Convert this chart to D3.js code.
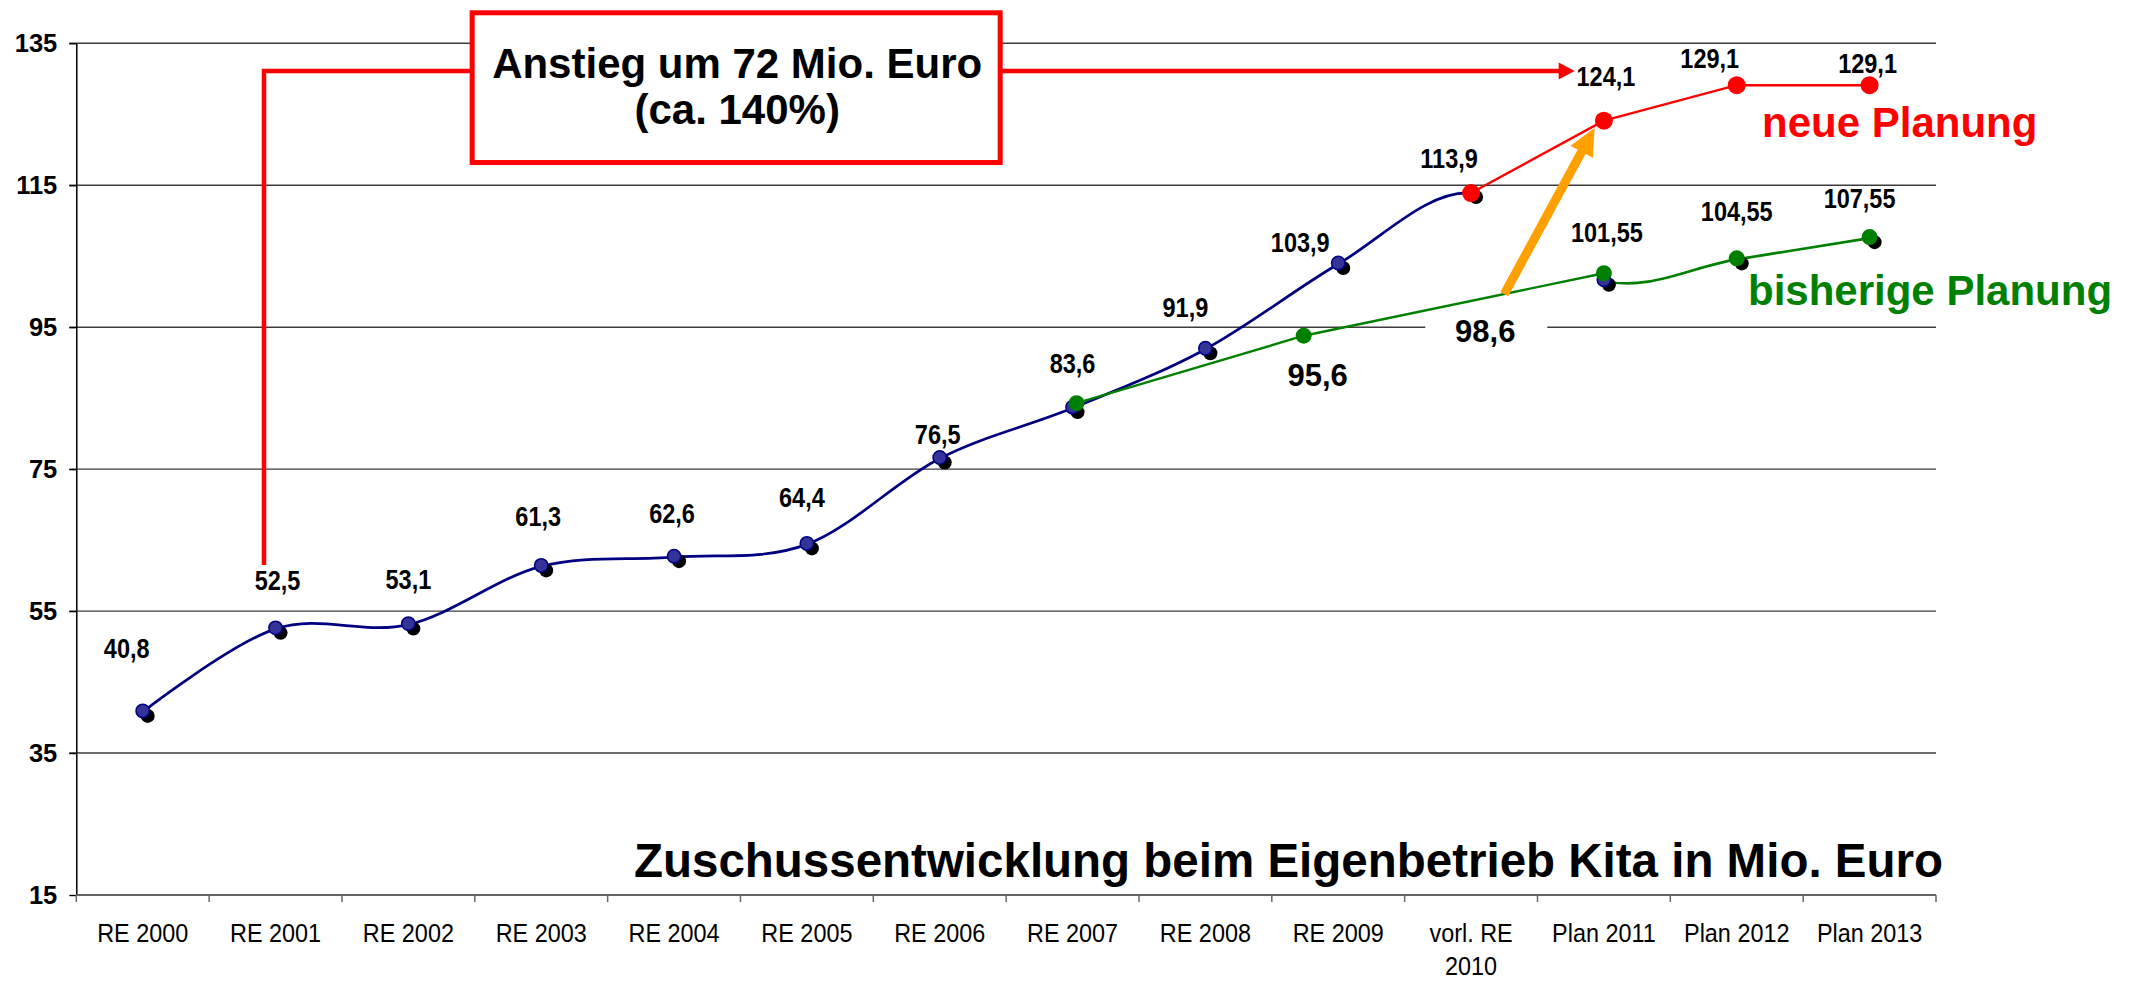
<!DOCTYPE html>
<html><head><meta charset="utf-8">
<script src="https://cdn.jsdelivr.net/npm/d3@7"></script>
<style>
body{margin:0;background:#fff}
svg{display:block}
text{font-family:"Liberation Sans",Arial,Helvetica,sans-serif}
</style></head>
<body><svg id="c" width="2132" height="983"></svg>
<script>
// ---------- data ----------
const categories = ["RE 2000","RE 2001","RE 2002","RE 2003","RE 2004","RE 2005","RE 2006","RE 2007","RE 2008","RE 2009","vorl. RE 2010","Plan 2011","Plan 2012","Plan 2013"];
const categoryLines = [["RE 2000"],["RE 2001"],["RE 2002"],["RE 2003"],["RE 2004"],["RE 2005"],["RE 2006"],["RE 2007"],["RE 2008"],["RE 2009"],["vorl. RE","2010"],["Plan 2011"],["Plan 2012"],["Plan 2013"]];
const yTicks = [15,35,55,75,95,115,135];
// smoothed actual series (blue up to vorl. RE 2010, continued in green for the old plan)
const istValues = [40.8,52.5,53.1,61.3,62.6,64.4,76.5,83.6,91.9,103.9,113.9,101.55,104.55,107.55];
const blueUntil = 10;
const greenFrom = 11;
// neue Planung (red)
const neueIdx = [10,11,12,13];
const neueValues = [113.9,124.1,129.1,129.1];
// bisherige Planung overlay (green), [category position, value]
const bisherigeLine = [[7.03,84.3],[8.74,93.8],[11,102.6]];
const bisherigeMarkers = [[7.03,84.3],[8.74,93.8],[11,102.6],[12,104.7],[13,107.7]];
const bisherigeTexts = ["95,6","98,6"];
// annotation anchors [category position, value]
const bracketPts = [[0.913,61.5],[0.913,131.1],[2.48,131.1]];
const arrowPts = [[6.455,131.1],[10.78,131.1]];
const boxPts = [[2.48,139.3],[6.455,118.2]];
const orangePts = [[10.25,99.65],[10.93,123.07]];
const boxText = ["Anstieg um 72 Mio. Euro","(ca. 140%)"];
const title = "Zuschussentwicklung beim Eigenbetrieb Kita in Mio. Euro";
const legendNeu = "neue Planung";
const legendBisher = "bisherige Planung";
// label nudges (px) for value labels
const istNudge = [[-16,-54],[2,-39],[0,-36],[-3,-40],[-2,-34],[-5,-37],[-2,-15],[0,-35],[-20,-32],[-38,-12],[-22,-25],[3,-39],[0,-38],[-10,-30]];
const neueNudge = [null,[2,-35],[-27,-17],[-2,-12]];

// ---------- scales ----------
const svg = d3.select("#c");
const L = 76.3, R = 1936, T = 43.3, B = 895;
const x = d3.scaleBand().domain(categories).range([L,R]).paddingInner(0).paddingOuter(0);
const xi = d3.scaleLinear().domain([0,categories.length]).range([L,R]);
const xPos = i => xi(i+0.5);
const y = d3.scaleLinear().domain([15,135]).range([B,T]);
const fmt = v => String(v).replace(".",",");
function condense(sel, f){
  sel.each(function(){
    const len = this.getComputedTextLength();
    d3.select(this).attr("textLength", len*f).attr("lengthAdjust","spacingAndGlyphs");
  });
}

// gridlines
svg.append("g").selectAll("line").data(yTicks.filter(v=>v>15)).join("line")
  .attr("x1",L-7).attr("x2",R).attr("y1",d=>y(d)).attr("y2",d=>y(d))
  .attr("stroke","#3c3c3c").attr("stroke-width",1.4);

// y axis
const ya = svg.append("g").attr("transform",`translate(${L},0)`)
  .call(d3.axisLeft(y).tickValues(yTicks).tickSize(7).tickSizeOuter(0).tickPadding(12).tickFormat(d=>d));
ya.select(".domain").attr("stroke","#000").attr("stroke-width",1.5);
ya.selectAll(".tick line").attr("stroke","#000").attr("stroke-width",1.4);
ya.selectAll(".tick text").attr("font-size",25.5).attr("font-weight","bold").attr("fill","#000")
  .attr("font-family","'Liberation Sans',Arial,sans-serif");

// x axis
svg.append("line").attr("x1",L).attr("x2",R).attr("y1",B).attr("y2",B).attr("stroke","#666").attr("stroke-width",2.2);
svg.append("g").selectAll("line").data(d3.range(categories.length+1)).join("line")
  .attr("x1",d=>xi(d)).attr("x2",d=>xi(d)).attr("y1",B).attr("y2",B+7)
  .attr("stroke","#666").attr("stroke-width",1.5);
const xl = svg.append("g").selectAll("text").data(categories).join("text")
  .attr("x",d=>x(d)+x.bandwidth()/2).attr("y",B+47)
  .attr("text-anchor","middle").attr("font-size",26).attr("fill","#000");
xl.each(function(d,i){
  const t = d3.select(this);
  categoryLines[i].forEach((ln,k)=>{
    t.append("tspan").attr("x",x(d)+x.bandwidth()/2).attr("dy",k===0?0:33).text(ln);
  });
});
xl.selectAll("tspan").each(function(){
  const len = this.getComputedTextLength();
  d3.select(this).attr("textLength", len*0.9).attr("lengthAdjust","spacingAndGlyphs");
});

// red bracket + arrow
const P = p => [xPos(p[0]), y(p[1])];
svg.append("polyline").attr("points",bracketPts.map(P).map(p=>p.join(",")).join(" "))
  .attr("fill","none").attr("stroke","#ff0000").attr("stroke-width",4.5);
function arrow(g, a, b, head, half, width, color){
  const [x1,y1]=a,[x2,y2]=b;
  const dx=x2-x1, dy=y2-y1, len=Math.hypot(dx,dy), ux=dx/len, uy=dy/len, nx=-uy, ny=ux;
  const bx=x2-ux*head, by=y2-uy*head;
  g.append("line").attr("x1",x1).attr("y1",y1).attr("x2",bx+ux*2).attr("y2",by+uy*2)
    .attr("stroke",color).attr("stroke-width",width);
  g.append("polygon").attr("points",[[x2,y2],[bx+nx*half,by+ny*half],[bx-nx*half,by-ny*half]].map(p=>p.join(",")).join(" "))
    .attr("fill",color);
}
arrow(svg, P(arrowPts[0]), P(arrowPts[1]), 16, 8.5, 4.5, "#ff0000");

// box
const b0 = P(boxPts[0]), b1 = P(boxPts[1]);
svg.append("rect").attr("x",b0[0]).attr("y",b0[1]).attr("width",b1[0]-b0[0]).attr("height",b1[1]-b0[1])
  .attr("fill","#fff").attr("stroke","#ff0000").attr("stroke-width",5);
svg.append("g").selectAll("text").data(boxText).join("text")
  .attr("x",(b0[0]+b1[0])/2+1).attr("y",(d,i)=>b0[1]+65+i*46)
  .attr("text-anchor","middle").attr("font-size",42).attr("font-weight","bold").attr("fill","#000").text(d=>d);

// lines
const curve = d3.line().x((d,i)=>xPos(i)).y(d=>y(d)).curve(d3.curveCatmullRom.alpha(0));
const defs = svg.append("defs");
defs.append("clipPath").attr("id","clipBlue").append("rect").attr("x",0).attr("y",0).attr("width",xPos(blueUntil)).attr("height",983);
defs.append("clipPath").attr("id","clipGreen").append("rect").attr("x",xPos(greenFrom)).attr("y",0).attr("width",2132).attr("height",983);
svg.append("path").attr("d",curve(istValues)).attr("fill","none").attr("stroke","#000080").attr("stroke-width",2.7).attr("clip-path","url(#clipBlue)");
svg.append("path").attr("d",curve(istValues)).attr("fill","none").attr("stroke","#008000").attr("stroke-width",2.7).attr("clip-path","url(#clipGreen)");
svg.append("path").attr("d",d3.line().x(d=>xPos(d[0])).y(d=>y(d[1]))(bisherigeLine))
  .attr("fill","none").attr("stroke","#008000").attr("stroke-width",2.4);
svg.append("path").attr("d",d3.line().x((d,i)=>xPos(neueIdx[i])).y(d=>y(d))(neueValues))
  .attr("fill","none").attr("stroke","#ff0000").attr("stroke-width",2.4);

// markers
svg.append("g").selectAll("circle").data(istValues).join("circle")
  .attr("cx",(d,i)=>xPos(i)+5).attr("cy",d=>y(d)+4).attr("r",7).attr("fill","#000");
svg.append("g").selectAll("circle").data(istValues).join("circle")
  .attr("cx",(d,i)=>xPos(i)).attr("cy",d=>y(d)-1).attr("r",6.7).attr("fill","#333399").attr("stroke","#000080").attr("stroke-width",1.5);
svg.append("g").selectAll("circle").data(bisherigeMarkers).join("circle")
  .attr("cx",d=>xPos(d[0])).attr("cy",d=>y(d[1])).attr("r",8).attr("fill","#008000");
svg.append("g").selectAll("circle").data(neueValues).join("circle")
  .attr("cx",(d,i)=>xPos(neueIdx[i])).attr("cy",d=>y(d)).attr("r",9).attr("fill","#ff0000");

// orange arrow
arrow(svg, P(orangePts[0]), P(orangePts[1]), 27, 12.7, 9, "#ffa000");

// value labels
const vl1 = svg.append("g").selectAll("text").data(istValues).join("text")
  .attr("x",(d,i)=>xPos(i)+istNudge[i][0]).attr("y",(d,i)=>y(d)+istNudge[i][1])
  .attr("text-anchor","middle").attr("font-size",27).attr("font-weight","bold").attr("fill","#000").text(d=>fmt(d));
condense(vl1, 0.87);
const vl2 = svg.append("g").selectAll("text").data(neueValues.slice(1)).join("text")
  .attr("x",(d,i)=>xPos(neueIdx[i+1])+neueNudge[i+1][0]).attr("y",(d,i)=>y(d)+neueNudge[i+1][1])
  .attr("text-anchor","middle").attr("font-size",27).attr("font-weight","bold").attr("fill","#000").text(d=>fmt(d));
condense(vl2, 0.87);

// bisherige labels
const m2 = P(bisherigeMarkers[1]);
svg.append("text").attr("x",m2[0]+14).attr("y",m2[1]+50).attr("text-anchor","middle")
  .attr("font-size",31).attr("font-weight","bold").attr("fill","#000").text(bisherigeTexts[0]);
const ob = P(orangePts[0]);
svg.append("rect").attr("x",ob[0]-79).attr("y",ob[1]+25).attr("width",122).attr("height",26).attr("fill","#fff");
svg.append("text").attr("x",ob[0]-19).attr("y",ob[1]+48).attr("text-anchor","middle")
  .attr("font-size",31).attr("font-weight","bold").attr("fill","#000").text(bisherigeTexts[1]);

// legend texts + title
svg.append("text").attr("x",1762).attr("y",137).attr("font-size",42).attr("font-weight","bold").attr("fill","#ff0000").text(legendNeu);
svg.append("text").attr("x",1748).attr("y",305).attr("font-size",42).attr("font-weight","bold").attr("fill","#008000").text(legendBisher);
svg.append("text").attr("x",1943).attr("y",877).attr("text-anchor","end").attr("font-size",47.5).attr("font-weight","bold").attr("fill","#000").text(title);
</script></body></html>
